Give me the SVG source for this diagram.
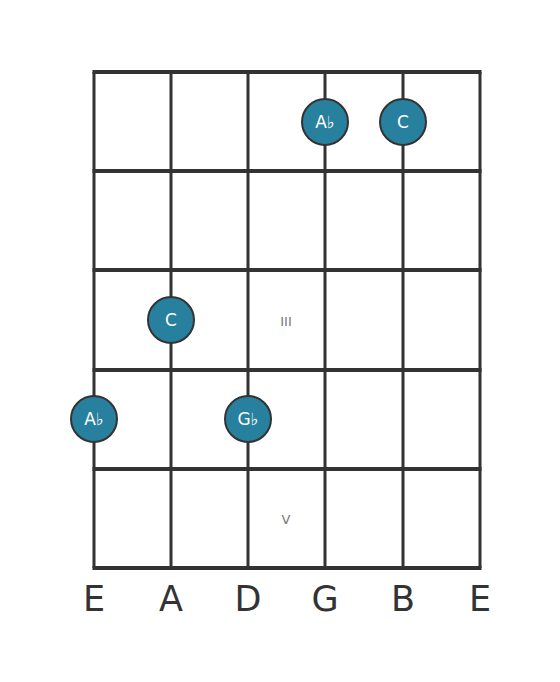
<svg xmlns="http://www.w3.org/2000/svg" width="560" height="682" viewBox="0 0 560 682">
<style>
.fret{stroke:#333;stroke-width:4;fill:none}
.str{stroke:#333;stroke-width:3;fill:none}
.dot{fill:#27809e;stroke:#333;stroke-width:2}
.nt{fill:#fff;font-family:"DejaVu Sans",sans-serif;font-size:17px;text-anchor:middle}
.rn{fill:#777;font-family:"DejaVu Sans",sans-serif;font-size:13px;text-anchor:middle}
.sl{fill:#333;font-family:"DejaVu Sans",sans-serif;font-size:35px;text-anchor:middle}
</style>
<rect width="560" height="682" fill="#fff"/>
<g id="connectors">
<line class="str" x1="94" y1="72" x2="94" y2="568"/>
<line class="str" x1="171" y1="72" x2="171" y2="568"/>
<line class="str" x1="248" y1="72" x2="248" y2="568"/>
<line class="str" x1="325" y1="72" x2="325" y2="568"/>
<line class="str" x1="403" y1="72" x2="403" y2="568"/>
<line class="str" x1="480" y1="72" x2="480" y2="568"/>
<line class="fret" x1="92.5" y1="72" x2="481.5" y2="72"/>
<line class="fret" x1="92.5" y1="171" x2="481.5" y2="171"/>
<line class="fret" x1="92.5" y1="270" x2="481.5" y2="270"/>
<line class="fret" x1="92.5" y1="370" x2="481.5" y2="370"/>
<line class="fret" x1="92.5" y1="469" x2="481.5" y2="469"/>
<line class="fret" x1="92.5" y1="568" x2="481.5" y2="568"/>
</g>
<g id="fret-labels">
<text class="rn" x="286" y="326">III</text>
<text class="rn" x="286" y="524">V</text>
</g>
<g id="n1"><circle class="dot" cx="325" cy="122" r="23"/><text class="nt" x="325" y="128">A♭</text></g>
<g id="n2"><circle class="dot" cx="403" cy="122" r="23"/><text class="nt" x="403" y="128">C</text></g>
<g id="n3"><circle class="dot" cx="171" cy="320" r="23"/><text class="nt" x="171" y="326">C</text></g>
<g id="n4"><circle class="dot" cx="94" cy="419" r="23"/><text class="nt" x="94" y="425">A♭</text></g>
<g id="n5"><circle class="dot" cx="248" cy="419" r="23"/><text class="nt" x="248" y="425">G♭</text></g>
<g id="strings">
<text class="sl" x="94" y="611">E</text>
<text class="sl" x="171" y="611">A</text>
<text class="sl" x="248" y="611">D</text>
<text class="sl" x="325" y="611">G</text>
<text class="sl" x="403" y="611">B</text>
<text class="sl" x="480" y="611">E</text>
</g>
</svg>
